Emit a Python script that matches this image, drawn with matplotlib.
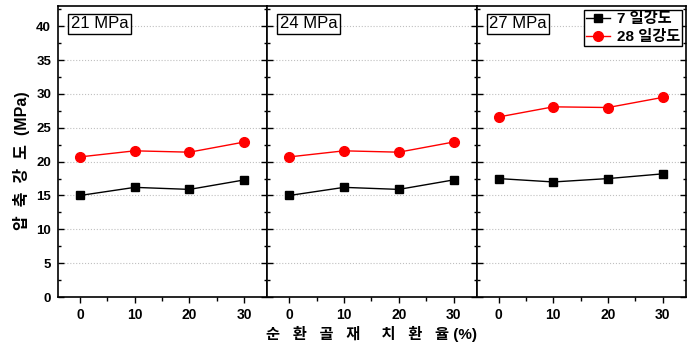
import matplotlib
matplotlib.use('Agg')
import matplotlib.pyplot as plt

plt.rcParams['font.family'] = ['Liberation Sans', 'Noto Sans CJK KR', 'DejaVu Sans']
plt.rcParams['font.weight'] = 'bold'

ratio = [0, 10, 20, 30]
panels = ['21 MPa', '24 MPa', '27 MPa']
day7 = [
    [15.0, 16.2, 15.9, 17.3],
    [15.0, 16.2, 15.9, 17.3],
    [17.5, 17.0, 17.5, 18.2],
]
day28 = [
    [20.7, 21.6, 21.4, 22.9],
    [20.7, 21.6, 21.4, 22.9],
    [26.6, 28.1, 28.0, 29.5],
]

fig = plt.figure(figsize=(6.92, 3.46), dpi=100)
left, width = 58 / 692, 209.3 / 692
bottom, height = 1 - 297 / 346, 291 / 346

for i, name in enumerate(panels):
    ax = fig.add_axes([left + i * width, bottom, width, height])
    ax.plot(ratio, day7[i], color='black', marker='s', markersize=6, lw=1,
            label='7 일강도')
    ax.plot(ratio, day28[i], color='red', marker='o', markersize=7, lw=1,
            label='28 일강도')
    ax.set_xlim(-4, 34.2)
    ax.set_ylim(0, 43)
    ax.set_xticks(ratio)
    ax.set_xticks([5, 15, 25], minor=True)
    ax.set_yticks(range(0, 45, 5))
    ax.yaxis.grid(True, linestyle=':', color='#c0c0c0', lw=0.8)
    ax.set_axisbelow(True)
    for s in ax.spines.values():
        s.set_linewidth(1.2)
    ax.tick_params(axis='x', direction='out', length=4, width=1, labelsize=10, pad=4)
    ax.tick_params(axis='x', which='minor', direction='out', length=3, width=1)
    ax.tick_params(axis='y', direction='in', length=4, width=1, left=True, right=True,
                   labelsize=9.5, pad=5)
    ax.set_yticks([2.5 + 5 * k for k in range(9)], minor=True)
    ax.tick_params(axis='y', which='minor', direction='in', length=2.5, width=1,
                   left=True, right=True)
    if i > 0:
        ax.tick_params(axis='y', labelleft=False)
    else:
        ax.set_ylabel('압  축  강  도  (MPa)', fontsize=11.5, fontweight='bold')
        ax.yaxis.set_label_coords(-0.135, 0.47)
    ax.text(0.06, 0.965, name, transform=ax.transAxes, fontsize=12, va='top', ha='left',
            fontweight='normal',
            bbox=dict(boxstyle='square,pad=0.15', fc='white', ec='black', lw=1))
    if i == 1:
        ax.set_xlabel('순   환   골   재     치   환   율 (%)', fontsize=11, fontweight='bold',
                      labelpad=3)
    if i == 2:
        leg = ax.legend(loc='upper right', fontsize=11, frameon=True, fancybox=False,
                        edgecolor='black', handlelength=1.6, handletextpad=0.4,
                        borderpad=0.15, labelspacing=0.25, borderaxespad=0.25)
        leg.get_frame().set_linewidth(1)
        leg.get_frame().set_alpha(1)

fig.savefig('out.png', dpi=100)
